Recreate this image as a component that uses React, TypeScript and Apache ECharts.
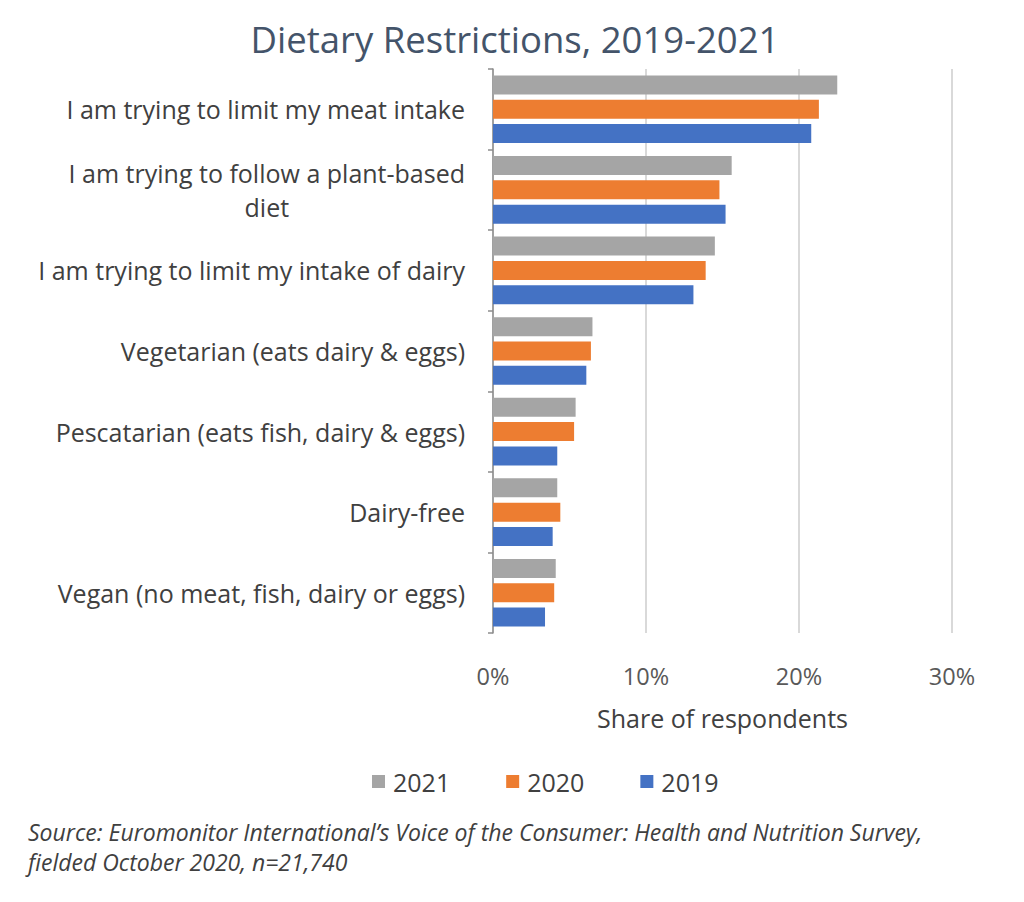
import React, { useEffect, useRef } from "react";
import * as echarts from "echarts";

const categories = [
  "I am trying to limit my meat intake",
  "I am trying to follow a plant-based diet",
  "I am trying to limit my intake of dairy",
  "Vegetarian (eats dairy & eggs)",
  "Pescatarian (eats fish, dairy & eggs)",
  "Dairy-free",
  "Vegan (no meat, fish, dairy or eggs)",
];
const values2021 = [22.5, 15.6, 14.5, 6.5, 5.4, 4.2, 4.1];
const values2020 = [21.3, 14.8, 13.9, 6.4, 5.3, 4.4, 4.0];
const values2019 = [20.8, 15.2, 13.1, 6.1, 4.2, 3.9, 3.4];
const seriesNames = ["2021", "2020", "2019"];
const xTicks = { min: 0, max: 30, interval: 10 };

const FONT = "'Open Sans', 'Noto Sans', sans-serif";
const TEXT = "#404040";

export default function App() {
  const ref = useRef<HTMLDivElement>(null);
  useEffect(() => {
    if (!ref.current) return;
    const chart = echarts.init(ref.current, null, { renderer: "svg" });
    const colors = ["#A5A5A5", "#ED7D31", "#4472C4"];
    const data = [values2021, values2020, values2019];
    chart.setOption({
      animation: false,
      backgroundColor: "#ffffff",
      textStyle: { fontFamily: FONT },
      title: {
        text: "Dietary Restrictions, 2019-2021",
        left: 510,
        textAlign: "center",
        top: 15,
        textStyle: { fontFamily: FONT, fontSize: 36.5, fontWeight: "normal", color: "#44546A" },
      },
      grid: { left: 493, right: 72, top: 69, bottom: 269 },
      legend: {
        left: 367,
        top: 764,
        itemWidth: 13,
        itemHeight: 13,
        itemGap: 56,
        icon: "rect",
        data: seriesNames,
        textStyle: { fontFamily: FONT, fontSize: 25, color: TEXT, padding: [0, 0, 0, 3] },
      },
      xAxis: {
        type: "value",
        min: xTicks.min,
        max: xTicks.max,
        interval: xTicks.interval,
        name: "Share of respondents",
        nameLocation: "middle",
        nameGap: 72,
        nameTextStyle: { fontFamily: FONT, fontSize: 25, color: TEXT },
        axisLine: { show: false },
        axisTick: { show: false },
        axisLabel: {
          formatter: "{value}%",
          margin: 31,
          fontFamily: FONT,
          fontSize: 23.5,
          color: "#595959",
        },
        splitLine: { show: true, lineStyle: { color: "#D9D9D9", width: 2 } },
      },
      yAxis: {
        type: "category",
        inverse: true,
        data: categories,
        axisLine: { show: true, lineStyle: { color: "#8C8C8C", width: 1.5 } },
        axisTick: { show: true, length: 5, lineStyle: { color: "#8C8C8C", width: 1.5 } },
        axisLabel: {
          margin: 28,
          align: "right",
          fontFamily: FONT,
          fontSize: 25,
          color: TEXT,
          formatter: (v: string) =>
            v === categories[1]
              ? "{c|I am trying to follow a plant-based}\n{c|diet}"
              : v,
          rich: {
            c: { align: "center", fontFamily: FONT, fontSize: 25, color: TEXT, lineHeight: 34 },
          },
        },
        splitLine: { show: false },
      },
      series: seriesNames.map((name, i) => ({
        name,
        type: "bar",
        data: data[i],
        barWidth: 19,
        barGap: "28%",
        itemStyle: { color: colors[i] },
      })),
      graphic: [
        {
          type: "text",
          left: 28,
          top: 817,
          style: {
            text:
              "Source: Euromonitor International’s Voice of the Consumer: Health and Nutrition Survey,\nfielded October 2020, n=21,740",
            fontFamily: FONT,
            fontStyle: "italic",
            fontSize: 23,
            lineHeight: 30,
            fill: TEXT,
          },
        },
      ],
    });
    return () => chart.dispose();
  }, []);
  return (
    <div
      ref={ref}
      style={{ position: "fixed", left: 0, top: 0, width: 1024, height: 902, background: "#fff" }}
    />
  );
}
